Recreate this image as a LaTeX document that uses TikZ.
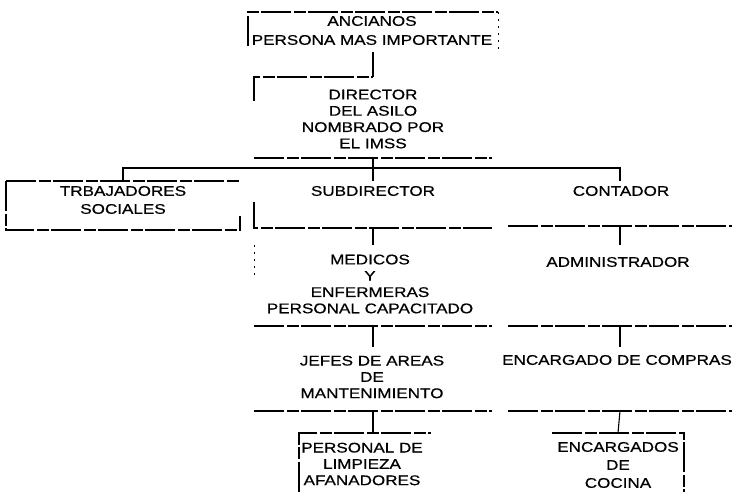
\documentclass[tikz,border=0pt]{standalone}
\usepackage{fontspec}
\setmainfont{Liberation Sans}[FakeStretch=1.22,FakeBold=0.6]
\begin{document}
\begin{tikzpicture}[x=1pt,y=-1pt,
  box/.style={draw=none, inner sep=0pt, outer sep=0pt},
  lbl/.style={font=\fontsize{14}{16.3}\selectfont, align=center, inner sep=0pt},
  edge/.style={line width=1.1pt, dash pattern=on 30pt off 3pt on 12pt off 2pt},
  faint/.style={line width=0.8pt, dash pattern=on 2pt off 5pt},
  wire/.style={line width=1.1pt}]
\useasboundingbox (0,0) rectangle (732,492);
% boxes (empty frames)
\node[box, minimum width=250pt, minimum height=40pt] (anc) at (373,32) {};
\node[box, minimum width=238pt, minimum height=81pt] (dir) at (373,117.5) {};
\node[box, minimum width=234pt, minimum height=49pt] (trab) at (123,205.5) {};
\node[box, minimum width=238pt, minimum height=47pt] (sub) at (373,204.5) {};
\node[box, minimum width=224pt, minimum height=45pt] (cont) at (620,203.5) {};
\node[box, minimum width=238pt, minimum height=81pt] (med) at (373,285.5) {};
\node[box, minimum width=224pt, minimum height=81pt] (adm) at (620,285.5) {};
\node[box, minimum width=238pt, minimum height=64pt] (jef) at (373,379) {};
\node[box, minimum width=224pt, minimum height=64pt] (com) at (620,379) {};
\node[box, minimum width=132pt, minimum height=59pt] (lim) at (365,462.5) {};
\node[box, minimum width=132pt, minimum height=59pt] (coc) at (618,462.5) {};
% texts
\node[lbl] (tanc) at (372,30.5) {ANCIANOS\\[2.7pt]PERSONA MAS IMPORTANTE};
\node[lbl] (tdir) at (373,119) {DIRECTOR\\DEL ASILO\\NOMBRADO POR\\EL IMSS};
\node[lbl] (ttrab) at (123,200) {TRBAJADORES\\[1.7pt]SOCIALES};
\node[lbl] (tsub) at (373,191) {SUBDIRECTOR};
\node[lbl] (tcont) at (621,191) {CONTADOR};
\node[lbl] (tmed) at (370,284) {MEDICOS\\Y\\ENFERMERAS\\PERSONAL CAPACITADO};
\node[lbl] (tadm) at (618,262) {ADMINISTRADOR};
\node[lbl] (tjef) at (372,377) {JEFES DE AREAS\\DE\\MANTENIMIENTO};
\node[lbl] (tcom) at (617,360) {ENCARGADO DE COMPRAS};
\node[lbl] (tlim) at (362,464) {PERSONAL DE\\LIMPIEZA\\AFANADORES};
\node[lbl] (tcoc) at (618,465) {ENCARGADOS\\[1.7pt]DE\\[1.7pt]COCINA};
% visible frame sides
\draw[edge] (anc.south west) ++(0,-6) -- (anc.north west) -- (anc.north east);
\draw[faint] (anc.north east) -- (anc.south east);
\draw[edge] (dir.north west) ++(0,24) -- (dir.north west) -- (dir.north);
\draw[edge] (dir.south west) -- (dir.south east);
\draw[edge] (trab.north west) -- (trab.north east);
\draw[edge] (trab.north west) -- (trab.south west) -- (trab.south east) -- ++(0,-14);
\draw[edge] (sub.south west) ++(0,-26) -- (sub.south west) -- (sub.south east);
\draw[edge] (cont.south west) -- (cont.south east);
\draw[faint] (med.north west) -- ++(0,30);
\draw[edge] (med.south west) -- (med.south east);
\draw[edge] (adm.south west) -- (adm.south east);
\draw[edge] (jef.south west) -- (jef.south east);
\draw[edge] (com.south west) -- (com.south east);
\draw[edge] (lim.south west) -- (lim.north west) -- (lim.north east);
\draw[edge] (coc.north west) -- (coc.north east) -- (coc.south east);
% connectors
\coordinate (bus) at (373,168);
\draw[wire] (anc.south) -- (dir.north);
\draw[wire] (dir.south) -- (bus) -- (sub.north);
\draw[wire] (trab.north) -- (trab.north |- bus) -- (cont.north |- bus) -- (cont.north);
\draw[wire] (sub.south) -- (med.north);
\draw[wire] (cont.south) -- (adm.north);
\draw[wire] (med.south) -- (jef.north);
\draw[wire] (adm.south) -- (com.north);
\draw[wire] (jef.south) -- (jef.south |- lim.north);
\draw[wire] (com.south) -- (coc.north);
\end{tikzpicture}
\end{document}
